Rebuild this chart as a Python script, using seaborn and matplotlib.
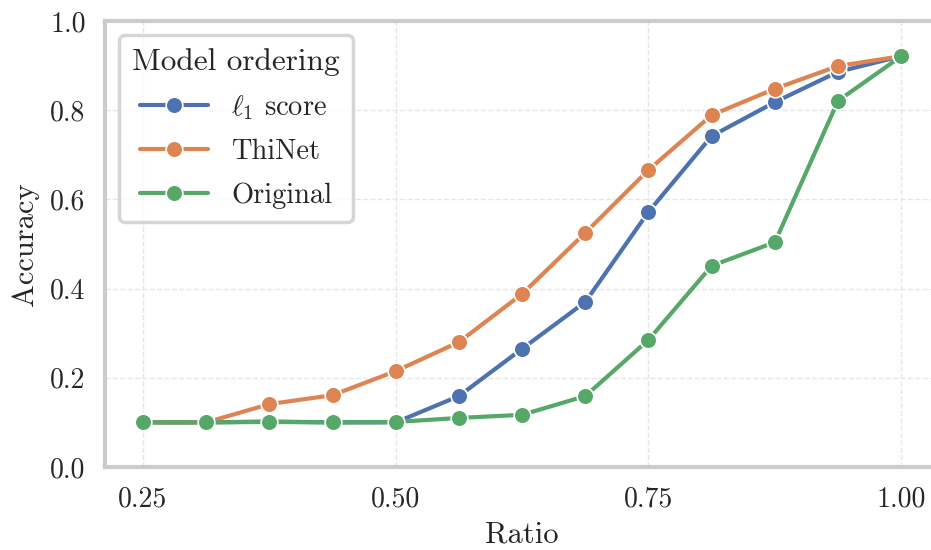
import matplotlib
matplotlib.use("Agg")
import matplotlib.pyplot as plt
import seaborn as sns
import pandas as pd

# Pruning ratio vs. accuracy for three model orderings
ratio = [0.25, 0.3125, 0.375, 0.4375, 0.5, 0.5625, 0.625, 0.6875,
         0.75, 0.8125, 0.875, 0.9375, 1.0]
acc_l1 = [0.100, 0.100, 0.102, 0.100, 0.100, 0.159, 0.265, 0.370,
          0.572, 0.742, 0.818, 0.886, 0.921]
acc_thinet = [0.100, 0.100, 0.141, 0.161, 0.215, 0.280, 0.388, 0.525,
              0.666, 0.789, 0.848, 0.899, 0.921]
acc_original = [0.100, 0.100, 0.101, 0.100, 0.101, 0.110, 0.117, 0.159,
                0.285, 0.451, 0.504, 0.821, 0.921]
labels = [r"$\ell_1$ score", "ThiNet", "Original"]
x_ticks = [0.25, 0.50, 0.75, 1.00]
y_ticks = [0.0, 0.2, 0.4, 0.6, 0.8, 1.0]

df = pd.DataFrame({
    "Ratio": ratio * 3,
    "Accuracy": acc_l1 + acc_thinet + acc_original,
    "Model ordering": [labels[0]] * len(ratio) + [labels[1]] * len(ratio)
                      + [labels[2]] * len(ratio),
})

sns.set_theme(style="whitegrid", palette="deep", rc={
    "axes.edgecolor": "#cccccc",
    "axes.linewidth": 3.0,
    "grid.linestyle": "--",
    "grid.color": "#e6e6e6",
    "grid.linewidth": 1.0,
})
plt.rcParams["font.family"] = ["cmr10", "DejaVu Serif"]
plt.rcParams["mathtext.fontset"] = "cm"
plt.rcParams["axes.formatter.use_mathtext"] = True
plt.rcParams["axes.unicode_minus"] = False

fig = plt.figure(figsize=(9.31, 5.5), dpi=100)
ax = fig.add_axes([0.1128, 0.1509, 0.896, 0.811])

sns.lineplot(data=df, x="Ratio", y="Accuracy", hue="Model ordering",
             marker="o", markersize=12, linewidth=3,
             markeredgecolor="white", markeredgewidth=1.2, ax=ax)

ax.set_xlim(0.2125, 1.0375)
ax.set_ylim(0.0, 1.0)
ax.set_xticks(x_ticks)
ax.set_xticklabels([f"{t:.2f}" for t in x_ticks])
ax.set_yticks(y_ticks)
ax.set_yticklabels([f"{t:.1f}" for t in y_ticks])
ax.tick_params(labelsize=20, colors="#262626", pad=8)
ax.set_xlabel("Ratio", fontsize=22, color="#262626", labelpad=6)
ax.set_ylabel("Accuracy", fontsize=22, color="#262626", labelpad=8)

leg = ax.legend(title="Model ordering", loc="upper left", fontsize=20.5,
                title_fontsize=22.5, frameon=True, borderpad=0.45,
                handlelength=2.4, handletextpad=0.8, labelspacing=0.6,
                bbox_to_anchor=(0.0, 1.0))
leg.get_frame().set_edgecolor("#cccccc")
leg.get_frame().set_linewidth(2.5)
for h in leg.legend_handles:
    h.set_markersize(12)
    h.set_markeredgecolor("white")
    h.set_linewidth(3)
for t in leg.get_texts():
    t.set_color("#262626")
leg.get_title().set_color("#262626")

fig.savefig("out.png", dpi=100)
